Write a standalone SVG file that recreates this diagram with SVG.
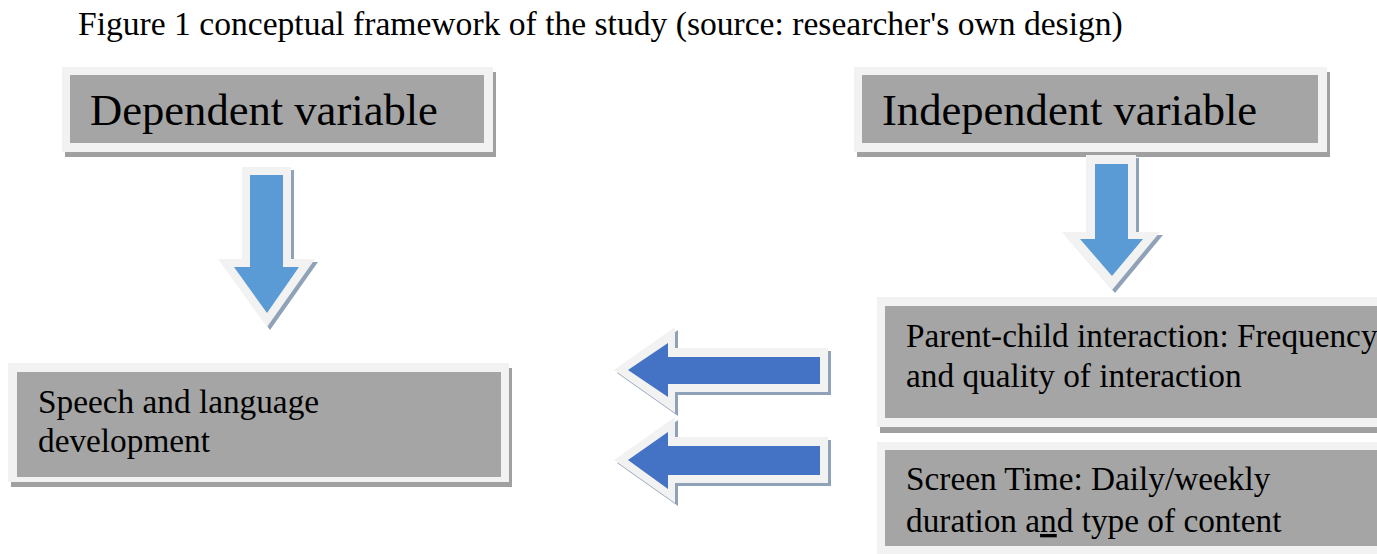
<svg xmlns="http://www.w3.org/2000/svg" width="1377" height="554" viewBox="0 0 1377 554">
<style>
text{font-family:"Liberation Serif","Times New Roman",serif;fill:#000}
.sh{fill:#a0a0a0}
.out{fill:#f2f2f2}
.in{fill:#a5a5a5}
.ash{fill:#8fa2b8}
.aout{fill:#f2f2f2}
.b1{fill:#5b9bd5}
.b2{fill:#4472c4}
.big{font-size:44.6px}
.mid{font-size:33.3px}
</style>
<rect width="1377" height="554" fill="#fff"/>
<text x="78" y="35" font-size="33.6">Figure 1 conceptual framework of the study (source: researcher's own design)</text>

<g id="dependent">
<rect class="sh" x="65" y="72" width="431" height="85"/>
<rect class="out" x="62" y="67" width="431" height="85"/>
<rect class="in" x="70" y="75" width="414" height="68"/>
<text class="big" x="90" y="125">Dependent variable</text>
</g>

<g id="independent">
<rect class="sh" x="857" y="72" width="473" height="85"/>
<rect class="out" x="854" y="67" width="473" height="85"/>
<rect class="in" x="862" y="75" width="456" height="68"/>
<text class="big" x="882" y="125">Independent variable</text>
</g>

<g id="speech">
<rect class="sh" x="11" y="368" width="501" height="119"/>
<rect class="out" x="8" y="363" width="501" height="119"/>
<rect class="in" x="17" y="372" width="484" height="105"/>
<text class="mid" x="38" y="413">Speech and language</text>
<text class="mid" x="38" y="452">development</text>
</g>

<g id="parent">
<rect class="sh" x="880" y="303" width="500" height="130"/>
<rect class="out" x="877" y="297" width="500" height="130"/>
<rect class="in" x="885" y="306" width="492" height="112"/>
<text class="mid" x="906" y="347">Parent-child interaction: Frequency</text>
<text class="mid" x="906" y="387">and quality of interaction</text>
</g>

<g id="screen">
<rect class="sh" x="880" y="448" width="500" height="112"/>
<rect class="out" x="877" y="442" width="500" height="112"/>
<rect class="in" x="885" y="450" width="492" height="96"/>
<text class="mid" x="906" y="490">Screen Time: Daily/weekly</text>
<text class="mid" x="906" y="532">duration a<tspan text-decoration="underline">n</tspan>d type of content</text>
</g>

<g id="connectors">
<g id="arrow-dep">
<polygon class="ash" points="245,170 294,170 294,262 318,262 270,330 221,262 245,262"/>
<polygon class="aout" points="242,167 291,167 291,259 315,259 267,327 218,259 242,259"/>
<polygon class="b1" points="250,175 283,175 283,267 299,267 267,313 234,267 250,267"/>
</g>
<g id="arrow-indep">
<polygon class="ash" points="1089,158 1139,158 1139,235 1163,235 1115,293 1065,235 1089,235"/>
<polygon class="aout" points="1086,155 1136,155 1136,232 1160,232 1112,290 1062,232 1086,232"/>
<polygon class="b1" points="1095,164 1128,164 1128,239 1143,239 1112,276 1080,239 1095,239"/>
</g>
<g id="arrow-parent">
<polygon class="ash" points="617,373 678,330 678,351 831,351 831,395 678,395 678,416"/>
<polygon class="aout" points="614,370 675,327 675,348 828,348 828,392 675,392 675,413"/>
<polygon class="b2" points="628,370 668,343 668,357 820,357 820,384 668,384 668,397"/>
</g>
<g id="arrow-screen">
<polygon class="ash" points="617,463 678,420 678,440 831,440 831,486 678,486 678,506"/>
<polygon class="aout" points="614,460 675,417 675,437 828,437 828,483 675,483 675,503"/>
<polygon class="b2" points="628,460 668,432 668,446 820,446 820,475 668,475 668,489"/>
</g>
</g>
</svg>
